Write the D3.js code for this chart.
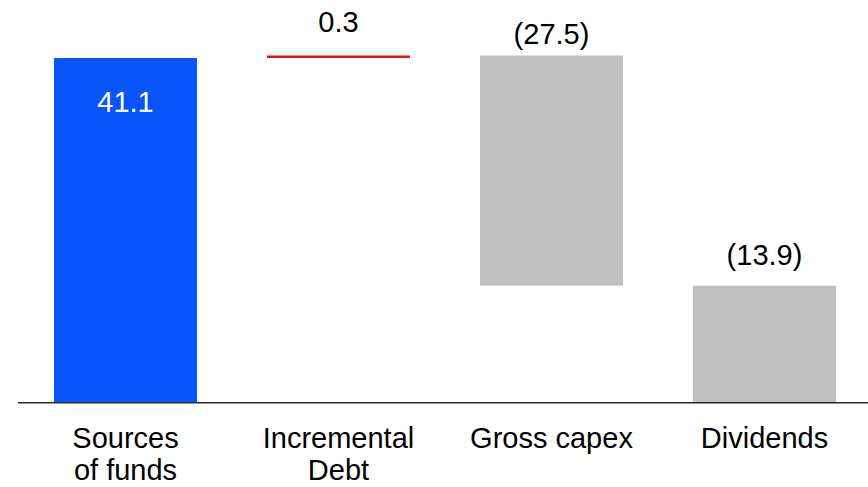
<!DOCTYPE html>
<html>
<head>
<meta charset="utf-8">
<script src="https://cdn.jsdelivr.net/npm/d3@7/dist/d3.min.js"></script>
<style>
  html, body { margin: 0; padding: 0; background: #fff; }
  svg { display: block; font-family: Arial, "Liberation Sans", sans-serif; }
</style>
</head>
<body>
<svg id="chart" width="868" height="487"></svg>
<script>
// Uses and sources of funds (waterfall)
const categories = ["Sources of funds", "Incremental Debt", "Gross capex", "Dividends"];
const categoryLines = [["Sources", "of funds"], ["Incremental", "Debt"], ["Gross capex"], ["Dividends"]];
const changes = [41.1, 0.3, -27.5, -13.9];
const valueLabels = ["41.1", "0.3", "(27.5)", "(13.9)"];
const kinds = ["total", "increase", "decrease", "decrease"];

const width = 868, height = 487;
const svg = d3.select("#chart");

const colors = { total: "#0855fb", increase: "#e2170c", decrease: "#c0c0c0" };

// running start/end of each step
let running = 0;
const steps = categories.map((c, i) => {
  const start = kinds[i] === "total" ? 0 : running;
  const end = kinds[i] === "total" ? changes[i] : running + changes[i];
  running = end;
  return { cat: c, start, end, kind: kinds[i], label: valueLabels[i], lines: categoryLines[i], i };
});

const x = d3.scaleBand()
  .domain(categories)
  .range([19, 871])
  .paddingInner(0.3286)
  .paddingOuter(0.1643);

const y = d3.scaleLinear()
  .domain([0, 41.1])
  .range([402, 58]);

// bars
svg.append("g").selectAll("rect")
  .data(steps)
  .join("rect")
  .attr("x", d => x(d.cat))
  .attr("width", x.bandwidth())
  .attr("y", d => y(Math.max(d.start, d.end)))
  .attr("height", d => Math.abs(y(d.start) - y(d.end)))
  .attr("fill", d => colors[d.kind]);

// baseline
svg.append("line")
  .attr("x1", 18).attr("x2", width)
  .attr("y1", y(0) + 0.8).attr("y2", y(0) + 0.8)
  .attr("stroke", "#2a2a2a")
  .attr("stroke-width", 1.6);

// value labels
const labelGap = [0, 23, 11, 21];
svg.append("g").selectAll("text")
  .data(steps)
  .join("text")
  .attr("x", d => x(d.cat) + x.bandwidth() / 2)
  .attr("y", d => d.kind === "total"
    ? y(d.end) + 54
    : y(Math.max(d.start, d.end)) - labelGap[d.i])
  .attr("text-anchor", "middle")
  .attr("font-size", 29)
  .attr("fill", d => d.kind === "total" ? "#ffffff" : "#000000")
  .text(d => d.label);

// category labels
const catG = svg.append("g");
steps.forEach(d => {
  const t = catG.append("text")
    .attr("x", x(d.cat) + x.bandwidth() / 2)
    .attr("y", 448)
    .attr("text-anchor", "middle")
    .attr("font-size", 29)
    .attr("fill", "#000");
  d.lines.forEach((ln, k) => {
    t.append("tspan")
      .attr("x", x(d.cat) + x.bandwidth() / 2)
      .attr("dy", k === 0 ? 0 : 32)
      .text(ln);
  });
});
</script>
</body>
</html>
